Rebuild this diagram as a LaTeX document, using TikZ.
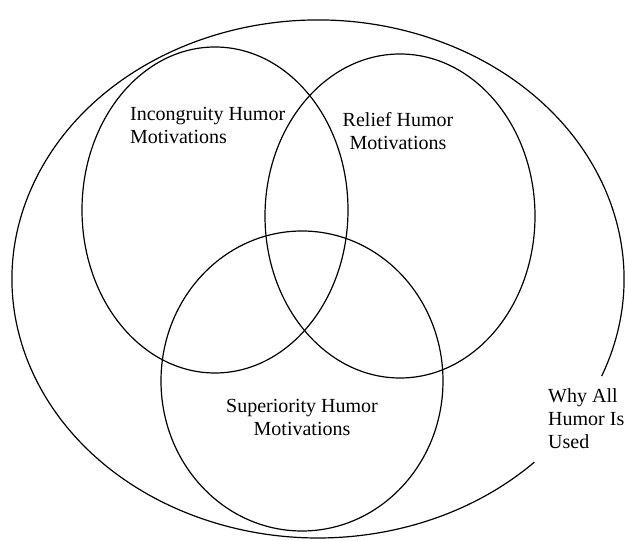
\documentclass[tikz,border=0pt]{standalone}
\usepackage{fontspec}
\setmainfont{Liberation Serif}
\usepackage{tikz}
\tikzset{
    venn/.style={
        ring/.style={draw, line width=1.2pt},
        every node/.style={font=\fontsize{20}{23}\selectfont, inner sep=0pt},
    },
}

\begin{document}
\begin{tikzpicture}[venn, x=1pt, y=1pt]
            \useasboundingbox (0,0) rectangle (625,541);
            \draw[ring] (318,262) ++(-22:306 and 259) arc[start angle=-22, end angle=315, x radius=306, y radius=259];
            \draw[ring] (215,331) ellipse [x radius=133, y radius=163];
            \draw[ring] (400,325) ellipse [x radius=135, y radius=162];
            \draw[ring] (302,160) ellipse [x radius=141, y radius=150];
            \node[anchor=west, align=left] (incongruity) at (130,416) {Incongruity Humor\\Motivations};
            \node[align=center] (relief) at (398,410) {Relief Humor\\Motivations};
            \node[align=center] (superiority) at (302,124) {Superiority Humor\\Motivations};
            \node[anchor=west, align=left] (why) at (548,122) {Why All\\Humor Is\\Used};
        \end{tikzpicture}
\end{document}
